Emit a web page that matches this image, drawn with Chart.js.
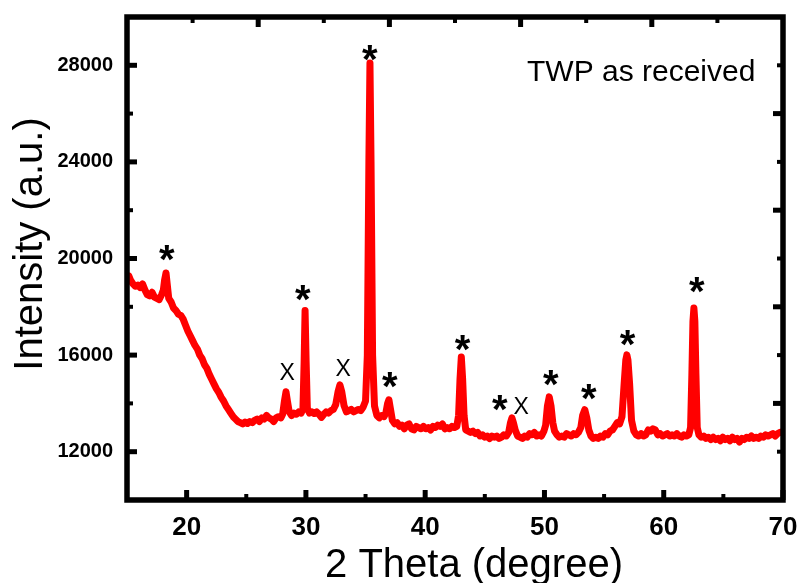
<!DOCTYPE html>
<html>
<head>
<meta charset="utf-8">
<script src="https://cdn.jsdelivr.net/npm/chart.js@4/dist/chart.umd.min.js"></script>
<style>
html, body { margin: 0; padding: 0; background: #fff; }
#wrap { width: 802px; height: 583px; }
</style>
</head>
<body>
<div id="wrap"><canvas id="chart" width="802" height="583"></canvas></div>
<script>
// XRD pattern, values
var twoTheta = [
  15.0, 15.15, 15.3, 15.5, 15.7, 15.9, 16.1, 16.3, 16.5, 16.7,
  16.9, 17.1, 17.3, 17.5, 17.7, 17.9, 18.05, 18.15, 18.27, 18.38,
  18.5, 18.7, 18.9, 19.1, 19.3, 19.5, 19.7, 19.9, 20.1, 20.3,
  20.5, 20.7, 20.9, 21.1, 21.3, 21.5, 21.7, 21.9, 22.1, 22.3,
  22.5, 22.7, 22.9, 23.1, 23.3, 23.5, 23.7, 23.9, 24.1, 24.3,
  24.5, 24.7, 24.9, 25.1, 25.3, 25.5, 25.7, 25.9, 26.1, 26.3,
  26.5, 26.7, 26.9, 27.1, 27.3, 27.5, 27.7, 27.9, 28.05, 28.2,
  28.33, 28.45, 28.6, 28.8, 29.0, 29.2, 29.4, 29.6, 29.75, 29.85,
  29.93, 30.02, 30.12, 30.3, 30.5, 30.7, 30.9, 31.1, 31.3, 31.5,
  31.7, 31.9, 32.1, 32.3, 32.5, 32.7, 32.85, 33.0, 33.2, 33.4,
  33.6, 33.8, 34.0, 34.2, 34.4, 34.6, 34.8, 35.0, 35.15, 35.28,
  35.37, 35.46, 35.59, 35.75, 35.95, 36.15, 36.35, 36.55, 36.7, 36.85,
  36.96, 37.08, 37.25, 37.45, 37.65, 37.85, 38.05, 38.25, 38.45, 38.65,
  38.85, 39.05, 39.25, 39.45, 39.65, 39.85, 40.05, 40.25, 40.45, 40.65,
  40.85, 41.05, 41.25, 41.45, 41.65, 41.85, 42.05, 42.25, 42.45, 42.65,
  42.8, 42.92, 43.03, 43.14, 43.26, 43.4, 43.6, 43.8, 44.0, 44.2,
  44.4, 44.6, 44.8, 45.0, 45.2, 45.4, 45.6, 45.8, 46.0, 46.2,
  46.4, 46.6, 46.8, 47.0, 47.15, 47.27, 47.4, 47.55, 47.75, 47.95,
  48.15, 48.35, 48.55, 48.75, 48.95, 49.15, 49.35, 49.55, 49.75, 49.95,
  50.1, 50.25, 50.4, 50.55, 50.7, 50.85, 51.05, 51.25, 51.45, 51.65,
  51.85, 52.05, 52.25, 52.45, 52.65, 52.85, 53.05, 53.2, 53.38, 53.55,
  53.72, 53.9, 54.1, 54.3, 54.5, 54.7, 54.9, 55.1, 55.3, 55.5,
  55.7, 55.9, 56.1, 56.3, 56.5, 56.68, 56.82, 56.91, 57.0, 57.14,
  57.3, 57.5, 57.7, 57.9, 58.1, 58.3, 58.5, 58.7, 58.9, 59.1,
  59.3, 59.5, 59.7, 59.9, 60.1, 60.3, 60.5, 60.7, 60.9, 61.1,
  61.3, 61.5, 61.7, 61.9, 62.1, 62.25, 62.36, 62.45, 62.53, 62.61,
  62.7, 62.81, 62.95, 63.15, 63.35, 63.55, 63.75, 63.95, 64.15, 64.35,
  64.55, 64.75, 64.95, 65.15, 65.35, 65.55, 65.75, 65.95, 66.15, 66.35,
  66.55, 66.75, 66.95, 67.15, 67.35, 67.55, 67.75, 67.95, 68.15, 68.35,
  68.55, 68.75, 68.95, 69.15, 69.35, 69.55, 69.75, 70.0
];
var intensity = [
  19150, 19280, 19100, 18950, 18850, 18900, 18800, 18950, 18700, 18500,
  18450, 18600, 18400, 18350, 18300, 18500, 18700, 19100, 19400, 18900,
  18350, 18200, 17950, 17850, 17700, 17650, 17500, 17250, 17000, 16800,
  16600, 16400, 16250, 16000, 15850, 15600, 15450, 15200, 15000, 14800,
  14600, 14450, 14250, 14100, 13900, 13750, 13600, 13450, 13350, 13250,
  13200, 13150, 13230, 13170, 13250, 13200, 13300, 13350, 13250, 13400,
  13350, 13500, 13400, 13350, 13250, 13400, 13450, 13400, 13550, 14100,
  14480, 14100, 13650, 13500, 13600, 13550, 13650, 13600, 13750, 15700,
  17850, 15700, 13800, 13600, 13650, 13580, 13650, 13550, 13420, 13550,
  13650, 13600, 13700, 13750, 13950, 14500, 14770, 14500, 13900, 13650,
  13700, 13750, 13650, 13700, 13750, 13700, 13850, 14100, 16000, 24000,
  28100, 24000, 16000, 13900, 13500, 13400, 13500, 13450, 13600, 14000,
  14150, 13800, 13300, 13150, 13200, 13050, 13100, 12950, 13100, 13150,
  12950, 12900, 13050, 13000, 12950, 13050, 12950, 13000, 12900, 13050,
  13000, 13100, 13050, 13150, 12950, 13000, 12950, 13050, 13000, 13050,
  13500, 15000, 15920, 15000, 13500, 12900, 12850, 12800, 12850, 12750,
  12800, 12650, 12700, 12600, 12650, 12550, 12650, 12600, 12650, 12550,
  12600, 12700, 12650, 12800, 13200, 13400, 13200, 12900, 12650, 12600,
  12550, 12650, 12600, 12750, 12700, 12800, 12650, 12700, 12650, 12850,
  13100, 13900, 14270, 13900, 13200, 12850, 12700, 12600, 12650, 12600,
  12750, 12700, 12650, 12750, 12700, 12800, 13000, 13500, 13740, 13400,
  12900, 12650, 12550, 12600, 12550, 12650, 12600, 12750, 12700, 12850,
  12900, 13050, 13200, 13150, 13450, 14800, 15800, 16010, 15800, 14800,
  13300, 12850, 12700, 12650, 12750, 12650, 12700, 12900, 12850, 12950,
  12900, 12700, 12750, 12650, 12700, 12750, 12650, 12700, 12650, 12750,
  12650, 12600, 12700, 12650, 12700, 13000, 15200, 17400, 17950, 17400,
  15200, 13000, 12700, 12600, 12650, 12550, 12600, 12500, 12600, 12500,
  12550, 12450, 12600, 12500, 12550, 12450, 12600, 12500, 12550, 12400,
  12550, 12500, 12600, 12550, 12650, 12550, 12600, 12550, 12650, 12600,
  12700, 12650, 12700, 12750, 12650, 12750, 12800, 12830
];

var xTicks = [20, 30, 40, 50, 60, 70];
var xMinor = [25, 35, 45, 55, 65];
var yTicks = [12000, 16000, 20000, 24000, 28000];
var yMinor = [14000, 18000, 22000, 26000];
var topMajor = [26, 37, 48, 59];
var topMinor = [20.5, 31.5, 42.5, 53.5, 64.5];
var rightMajor = [14000, 18000, 22000, 26000];
var rightMinor = [12000, 16000, 20000, 24000, 28000];

// peak labels
var markerTheta = [18.35, 29.75, 28.41, 33.11, 35.37, 37.05, 43.16, 46.27, 48.03, 50.54, 53.73, 56.99, 62.78];
var markerIntensity = [20230, 18575, 15310, 15470, 28500, 14980, 16510, 14030, 13900, 15060, 14480, 16710, 18900];
var markerSymbol = ['*', '*', 'X', 'X', '*', '*', '*', '*', 'X', '*', '*', '*', '*'];

var sampleName = 'TWP as received';
var FONT = '"Liberation Sans", Arial, sans-serif';

var points = twoTheta.map(function(t, i) { return {x: t, y: intensity[i]}; });

function noEdgePadding(s) {
  s.paddingTop = 0; s.paddingBottom = 0; s.paddingLeft = 0; s.paddingRight = 0;
}

var decor = {
  id: 'decor',
  afterDraw: function(chart) {
    var ctx = chart.ctx, a = chart.chartArea;
    var xs = chart.scales.x, ys = chart.scales.y;
    ctx.save();
    ctx.strokeStyle = '#000';
    ctx.lineCap = 'butt';

    function seg(x1, y1, x2, y2, w) {
      ctx.lineWidth = w;
      ctx.beginPath();
      ctx.moveTo(x1, y1);
      ctx.lineTo(x2, y2);
      ctx.stroke();
    }
    xTicks.forEach(function(v) { var p = xs.getPixelForValue(v); seg(p, a.bottom, p, a.bottom - 10, 5); });
    xMinor.forEach(function(v) { var p = xs.getPixelForValue(v); seg(p, a.bottom, p, a.bottom - 6, 4); });
    topMajor.forEach(function(v) { var p = xs.getPixelForValue(v); seg(p, a.top, p, a.top + 10, 5); });
    topMinor.forEach(function(v) { var p = xs.getPixelForValue(v); seg(p, a.top, p, a.top + 6, 4); });
    yTicks.forEach(function(v) { var p = ys.getPixelForValue(v); seg(a.left, p, a.left + 10, p, 5); });
    yMinor.forEach(function(v) { var p = ys.getPixelForValue(v); seg(a.left, p, a.left + 6, p, 4); });
    rightMajor.forEach(function(v) { var p = ys.getPixelForValue(v); seg(a.right, p, a.right - 10, p, 5); });
    rightMinor.forEach(function(v) { var p = ys.getPixelForValue(v); seg(a.right, p, a.right - 6, p, 4); });

    ctx.lineWidth = 5.5;
    ctx.strokeRect(a.left, a.top, a.right - a.left, a.bottom - a.top);

    ctx.fillStyle = '#000';
    // peak markers
    ctx.textAlign = 'center';
    ctx.textBaseline = 'alphabetic';
    markerSymbol.forEach(function(s, i) {
      ctx.font = s === '*' ? 'bold 40px ' + FONT : '23px ' + FONT;
      var m = ctx.measureText(s);
      var cx = xs.getPixelForValue(markerTheta[i]);
      var cy = ys.getPixelForValue(markerIntensity[i]);
      var asc = m.actualBoundingBoxAscent, desc = m.actualBoundingBoxDescent;
      var dx = (m.actualBoundingBoxLeft - m.actualBoundingBoxRight) / 2;
      ctx.fillText(s, cx + dx, cy + (asc - desc) / 2);
    });

    // sample name
    ctx.textAlign = 'left';
    ctx.font = '30px ' + FONT;
    ctx.fillText(sampleName, a.left + 400, a.top + 64);

    // axis titles
    ctx.font = '40px ' + FONT;
    ctx.textAlign = 'center';
    ctx.fillText('2 Theta (degree)', 474, 577);
    ctx.save();
    ctx.translate(42, 244);
    ctx.rotate(-Math.PI / 2);
    ctx.fillText('Intensity (a.u.)', 0, 0);
    ctx.restore();

    ctx.restore();
  }
};

var ctx = document.getElementById('chart').getContext('2d');
var chart = new Chart(ctx, {
  type: 'line',
  data: {
    datasets: [{
      label: sampleName,
      data: points,
      borderColor: '#ff0000',
      borderWidth: 7,
      borderJoinStyle: 'round',
      borderCapStyle: 'round',
      pointRadius: 0,
      tension: 0,
      fill: false
    }]
  },
  options: {
    responsive: false,
    animation: false,
    devicePixelRatio: 1,
    layout: { padding: { top: 17, right: 19, left: 0, bottom: 0 } },
    plugins: { legend: { display: false }, tooltip: { enabled: false } },
    scales: {
      x: {
        type: 'linear',
        min: 15,
        max: 70,
        afterBuildTicks: function(s) { s.ticks = xTicks.map(function(v) { return {value: v}; }); },
        afterFit: function(s) { s.height = 83; noEdgePadding(s); },
        grid: { display: false, drawTicks: false },
        border: { display: false },
        ticks: {
          padding: 12,
          maxRotation: 0,
          color: '#000',
          font: { family: FONT, size: 26, weight: 'bold' }
        }
      },
      y: {
        type: 'linear',
        min: 10000,
        max: 30000,
        afterBuildTicks: function(s) { s.ticks = yTicks.map(function(v) { return {value: v}; }); },
        afterFit: function(s) { s.width = 127; noEdgePadding(s); },
        grid: { display: false, drawTicks: false },
        border: { display: false },
        ticks: {
          padding: 14,
          color: '#000',
          font: { family: FONT, size: 20, weight: 'bold' },
          callback: function(v) { return String(v); }
        }
      }
    }
  },
  plugins: [decor]
});
</script>
</body>
</html>
